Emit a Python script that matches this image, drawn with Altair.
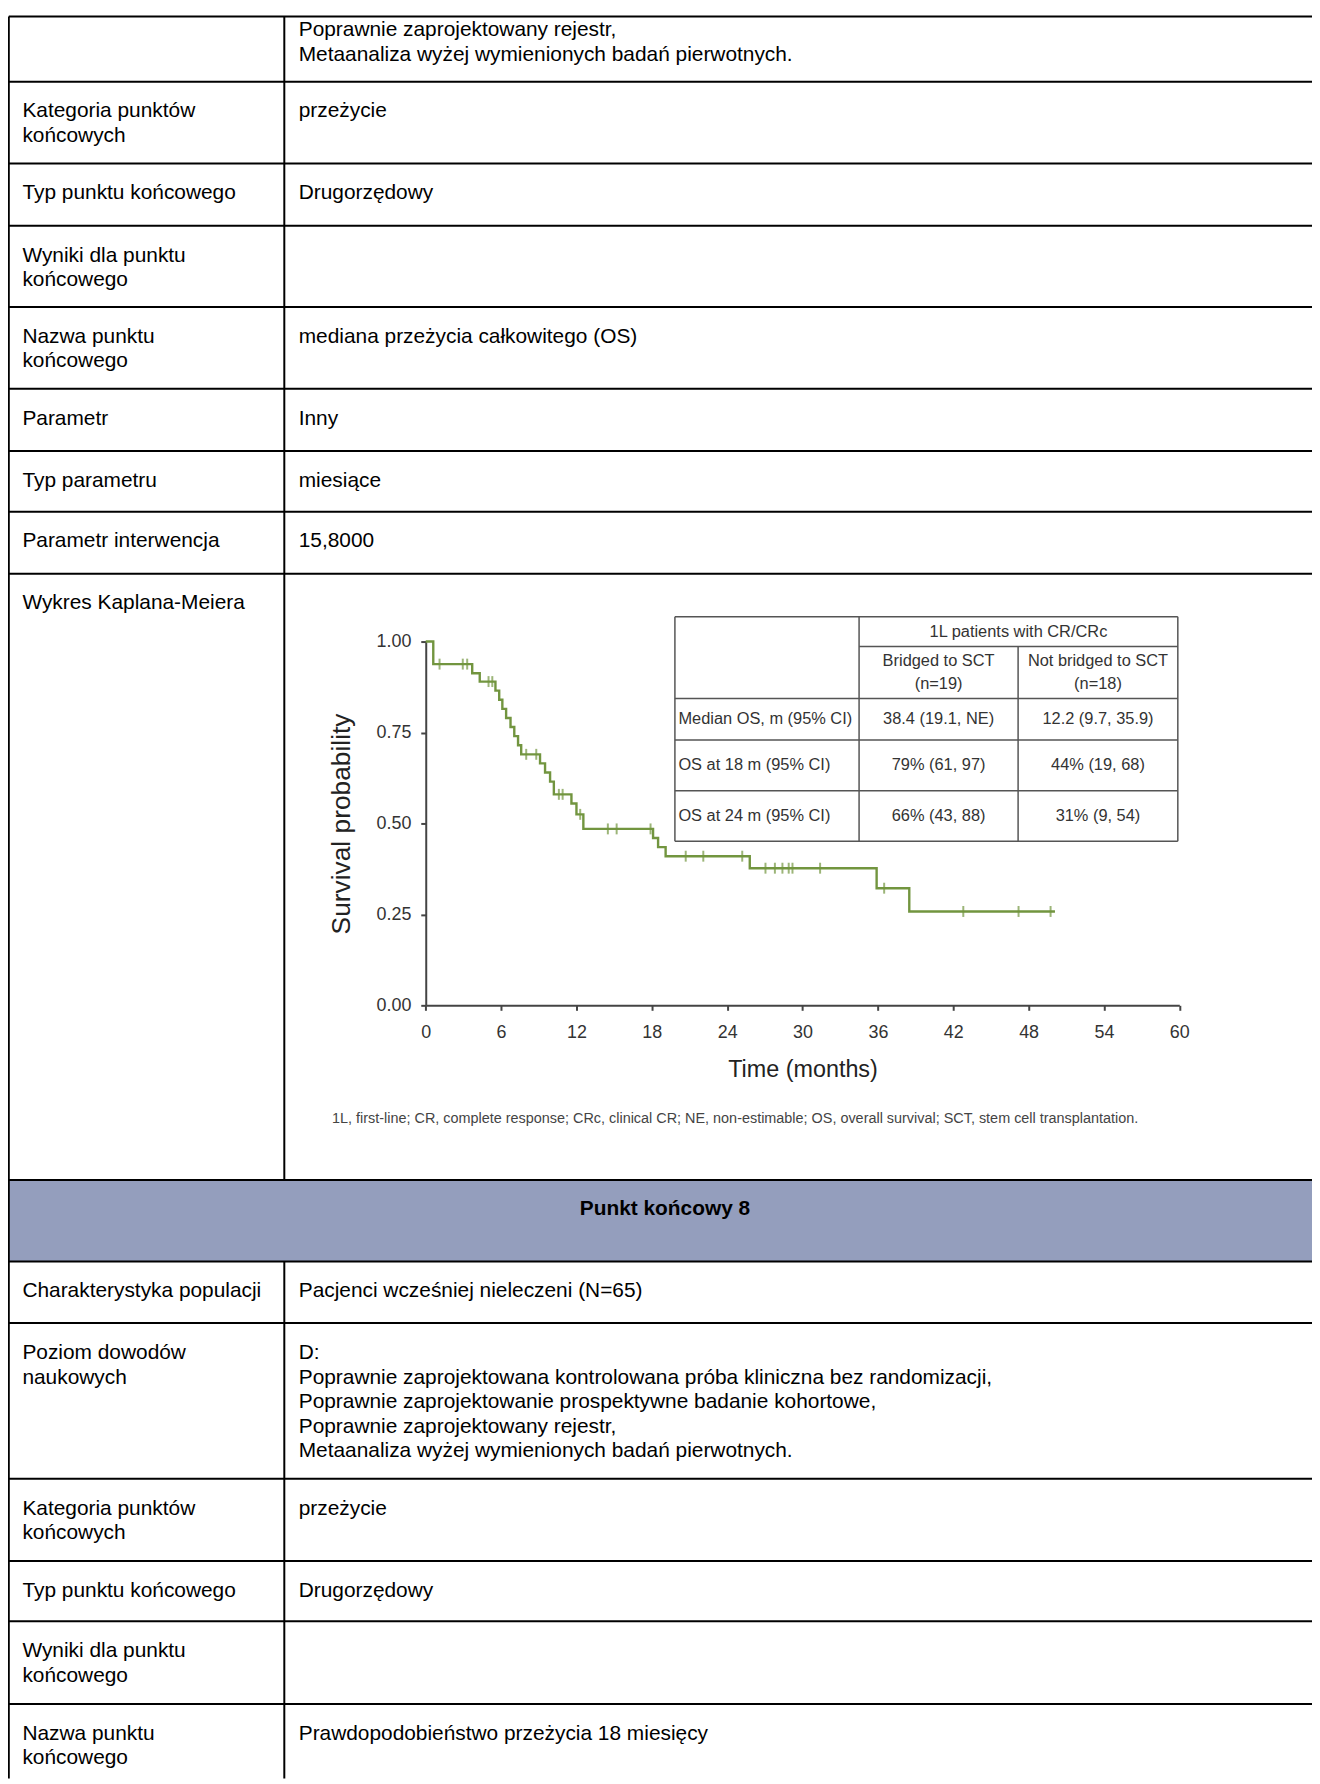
import altair as alt
import pandas as pd

# ---------------- data: document table ----------------
row_left = [
    [],
    ["Kategoria punktów", "końcowych"],
    ["Typ punktu końcowego"],
    ["Wyniki dla punktu", "końcowego"],
    ["Nazwa punktu", "końcowego"],
    ["Parametr"],
    ["Typ parametru"],
    ["Parametr interwencja"],
    ["Wykres Kaplana-Meiera"],
    ["Charakterystyka populacji"],
    ["Poziom dowodów", "naukowych"],
    ["Kategoria punktów", "końcowych"],
    ["Typ punktu końcowego"],
    ["Wyniki dla punktu", "końcowego"],
    ["Nazwa punktu", "końcowego"],
]
row_right = [
    ["Poprawnie zaprojektowany rejestr,", "Metaanaliza wyżej wymienionych badań pierwotnych."],
    ["przeżycie"],
    ["Drugorzędowy"],
    [],
    ["mediana przeżycia całkowitego (OS)"],
    ["Inny"],
    ["miesiące"],
    ["15,8000"],
    [],
    ["Pacjenci wcześniej nieleczeni (N=65)"],
    ["D:",
     "Poprawnie zaprojektowana kontrolowana próba kliniczna bez randomizacji,",
     "Poprawnie zaprojektowanie prospektywne badanie kohortowe,",
     "Poprawnie zaprojektowany rejestr,",
     "Metaanaliza wyżej wymienionych badań pierwotnych."],
    ["przeżycie"],
    ["Drugorzędowy"],
    [],
    ["Prawdopodobieństwo przeżycia 18 miesięcy"],
]
section_title = "Punkt końcowy 8"

# ---------------- data: Kaplan-Meier curve ----------------
km_time = [0, 0.6, 3.7, 4.3, 5.55, 5.85, 6.1, 6.4, 6.75, 7.05, 7.35, 7.6,
           9.1, 9.5, 9.9, 10.2, 11.6, 12.0, 12.55, 18.1, 18.5, 19.1,
           25.8, 35.9, 38.5, 50.1]
km_surv = [1.0, 0.938, 0.913, 0.89, 0.865, 0.84, 0.815, 0.79, 0.765, 0.74, 0.715, 0.69,
           0.665, 0.64, 0.615, 0.58, 0.555, 0.525, 0.485, 0.46, 0.435, 0.41,
           0.377, 0.322, 0.258, 0.258]
censor_time = [1.1, 2.95, 3.3, 5.0, 5.3, 8.0, 8.8, 10.6, 10.9, 12.3, 14.5, 15.2, 17.9,
               20.7, 22.1, 25.2, 27.05, 27.8, 28.4, 28.9, 29.2, 31.4, 36.5,
               42.8, 47.2, 49.75]
x_ticks = [0, 6, 12, 18, 24, 30, 36, 42, 48, 54, 60]
y_ticks = [0.0, 0.25, 0.5, 0.75, 1.0]

# inset table
inset_header = "1L patients with CR/CRc"
inset_groups = ["Bridged to SCT", "Not bridged to SCT"]
inset_n = ["(n=19)", "(n=18)"]
inset_rows = ["Median OS, m (95% CI)", "OS at 18 m (95% CI)", "OS at 24 m (95% CI)"]
inset_bridged = ["38.4 (19.1, NE)", "79% (61, 97)", "66% (43, 88)"]
inset_not_bridged = ["12.2 (9.7, 35.9)", "44% (19, 68)", "31% (9, 54)"]
footnote = ("1L, first-line; CR, complete response; CRc, clinical CR; NE, non-estimable; "
            "OS, overall survival; SCT, stem cell transplantation.")

# ---------------- layout (page pixels) ----------------
M = 8
W, H = 1312, 1776
FONT = "Liberation Sans, Arial, sans-serif"
GREEN = "#72953f"
BAND = "#949ebd"

row_tops = [11, 76.7, 159, 221.7, 303.3, 385.7, 448.3, 509.3, 571.7,
            1263.7, 1325.7, 1482.3, 1565, 1625.7, 1709]
band_top, band_bottom = 1181.7, 1263.7
left_x, sep_x, right_edge = 8.8, 286, 1320
left_text_x, right_text_x = 22.5, 300.5
line_step = 24.8

# KM plot placement
km_x0, km_x1 = 428.3, 1186.5
km_y0, km_y1 = 1006, 640
# inset table placement
it_l, it_r, it_t, it_b = 679, 1185, 615, 841
it_c1, it_c2 = 864.3, 1024.3
it_hline = 645
it_rows = [697.3, 739, 790]


def sx():
    return alt.Scale(domain=[M, M + W], range=[0, W], nice=False, zero=False)


def sy():
    return alt.Scale(domain=[M, M + H], range=[0, H], nice=False, zero=False)


def X(f="px"):
    return alt.X(f"{f}:Q", scale=sx(), axis=None)


def Y(f="py"):
    return alt.Y(f"{f}:Q", scale=sy(), axis=None)


# ---------- table text ----------
recs = []
for i, (L, R) in enumerate(zip(row_left, row_right)):
    top = row_tops[i]
    first = 14 if i == 0 else 30
    for j, s in enumerate(L):
        recs.append(dict(px=left_text_x, py=top + first + j * line_step, text=s))
    for j, s in enumerate(R):
        recs.append(dict(px=right_text_x, py=top + first + j * line_step, text=s))
table_text = alt.Chart(pd.DataFrame(recs)).mark_text(
    align="left", baseline="middle", font=FONT, fontSize=21, color="#000"
).encode(x=X(), y=Y(), text="text:N")

# ---------- band ----------
band_df = pd.DataFrame([dict(px=left_x, px2=right_edge, py=band_top, py2=band_bottom)])
band = alt.Chart(band_df).mark_rect(color=BAND).encode(
    x=X(), x2="px2:Q", y=Y(), y2="py2:Q")
band_text = alt.Chart(pd.DataFrame([dict(px=669, py=band_top + 29.5, text=section_title)])).mark_text(
    align="center", baseline="middle", font=FONT, fontSize=21, fontWeight="bold", color="#000"
).encode(x=X(), y=Y(), text="text:N")

# ---------- table lines ----------
hlines = row_tops[:9] + [band_top] + row_tops[9:]
lines = [dict(px=left_x, px2=right_edge, py=y, py2=y) for y in hlines]
lines.append(dict(px=left_x, px2=left_x, py=row_tops[0], py2=M + H))
lines.append(dict(px=sep_x, px2=sep_x, py=row_tops[0], py2=band_top))
lines.append(dict(px=sep_x, px2=sep_x, py=band_bottom, py2=M + H))
table_lines = alt.Chart(pd.DataFrame(lines)).mark_rule(color="#000", strokeWidth=2).encode(
    x=X(), x2="px2:Q", y=Y(), y2="py2:Q")

# ---------- inset table ----------
il = [dict(px=it_l, px2=it_r, py=it_t, py2=it_t),
      dict(px=it_l, px2=it_r, py=it_b, py2=it_b),
      dict(px=it_l, px2=it_l, py=it_t, py2=it_b),
      dict(px=it_r, px2=it_r, py=it_t, py2=it_b),
      dict(px=it_c1, px2=it_c1, py=it_t, py2=it_b),
      dict(px=it_c2, px2=it_c2, py=it_hline, py2=it_b),
      dict(px=it_c1, px2=it_r, py=it_hline, py2=it_hline)]
il += [dict(px=it_l, px2=it_r, py=y, py2=y) for y in it_rows]
inset_lines = alt.Chart(pd.DataFrame(il)).mark_rule(color="#555", strokeWidth=1.5).encode(
    x=X(), x2="px2:Q", y=Y(), y2="py2:Q")

row_bounds = it_rows + [it_b]
ctr = []
ctr.append(dict(px=(it_c1 + it_r) / 2, py=(it_t + it_hline) / 2, text=inset_header))
for k, (g, n) in enumerate(zip(inset_groups, inset_n)):
    cx = (it_c1 + it_c2) / 2 if k == 0 else (it_c2 + it_r) / 2
    ctr.append(dict(px=cx, py=it_hline + 15, text=g))
    ctr.append(dict(px=cx, py=it_hline + 38, text=n))
lft = []
for r in range(3):
    cy = (row_bounds[r] + row_bounds[r + 1]) / 2
    lft.append(dict(px=it_l + 3.5, py=cy, text=inset_rows[r]))
    ctr.append(dict(px=(it_c1 + it_c2) / 2, py=cy, text=inset_bridged[r]))
    ctr.append(dict(px=(it_c2 + it_r) / 2, py=cy, text=inset_not_bridged[r]))
inset_ctext = alt.Chart(pd.DataFrame(ctr)).mark_text(
    align="center", baseline="middle", font=FONT, fontSize=16.5, color="#333"
).encode(x=X(), y=Y(), text="text:N")
inset_ltext = alt.Chart(pd.DataFrame(lft)).mark_text(
    align="left", baseline="middle", font=FONT, fontSize=16.5, color="#333"
).encode(x=X(), y=Y(), text="text:N")

foot = alt.Chart(pd.DataFrame([dict(px=334, py=1120, text=footnote)])).mark_text(
    align="left", baseline="middle", font=FONT, fontSize=14.5, color="#444"
).encode(x=X(), y=Y(), text="text:N")

# ---------- Kaplan-Meier ----------
km_df = pd.DataFrame({"t": km_time, "s": km_surv})


def surv_at(t):
    s = km_surv[0]
    for tt, ss in zip(km_time, km_surv):
        if tt <= t:
            s = ss
    return s


cens_df = pd.DataFrame({"t": censor_time, "s": [surv_at(t) for t in censor_time]})

kx = alt.Scale(domain=[0, 60], range=[km_x0 - M, km_x1 - M], nice=False, zero=False)
ky = alt.Scale(domain=[0, 1], range=[km_y0 - M, km_y1 - M], nice=False, zero=False)

x_axis = alt.Axis(values=x_ticks, title="Time (months)", orient="bottom",
                  offset=-(H - (km_y0 - M)), tickSize=5, tickWidth=2, tickColor="#444",
                  domainColor="#444", domainWidth=2, labelPadding=13, labelFontSize=18,
                  labelFont=FONT, labelColor="#333", labelFlush=False, labelOverlap=False,
                  titleFont=FONT, titleFontSize=23.5, titleFontWeight="normal",
                  titleColor="#222", titlePadding=17, grid=False)
y_axis = alt.Axis(values=y_ticks, format=".2f", title="Survival probability", orient="left",
                  offset=-(km_x0 - M), tickSize=5, tickWidth=2, tickColor="#444",
                  domainColor="#444", domainWidth=2, labelPadding=10, labelFontSize=18,
                  labelFont=FONT, labelColor="#333", labelFlush=False, labelOverlap=False,
                  titleFont=FONT, titleFontSize=26.5, titleFontWeight="normal",
                  titleColor="#222", titlePadding=21, grid=False)

km_line = alt.Chart(km_df).mark_line(interpolate="step-after", color=GREEN, strokeWidth=2.4).encode(
    x=alt.X("t:Q", scale=kx, axis=x_axis),
    y=alt.Y("s:Q", scale=ky, axis=y_axis),
)
km_cens = alt.Chart(cens_df).mark_tick(orient="vertical", size=11, thickness=2, color=GREEN).encode(
    x=alt.X("t:Q", scale=kx, axis=None),
    y=alt.Y("s:Q", scale=ky, axis=None),
)

chart = alt.layer(
    band, table_lines, table_text, band_text,
    inset_lines, inset_ctext, inset_ltext, foot,
    km_line, km_cens,
).resolve_scale(x="independent", y="independent").properties(
    width=W, height=H, padding=0, background="white",
    autosize=alt.AutoSizeParams(type="none"),
).configure_view(stroke=None)

chart.save("out.html", embed_options={"renderer": "svg", "actions": False})
